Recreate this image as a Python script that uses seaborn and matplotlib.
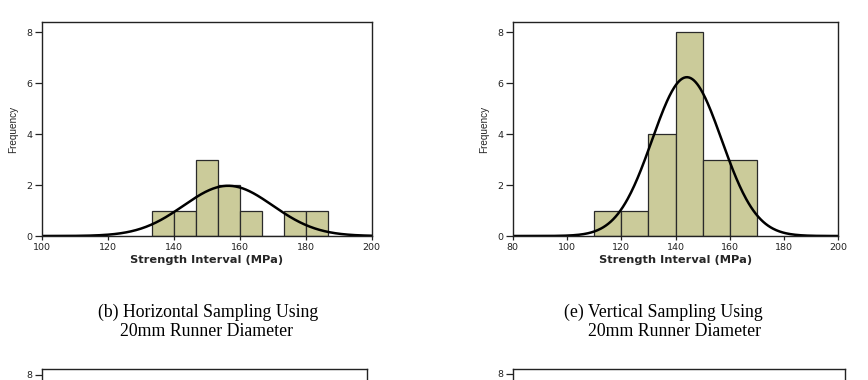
import numpy as np
import pandas as pd
import matplotlib
matplotlib.use("Agg")
import matplotlib.pyplot as plt
import seaborn as sns

# ---------------- data ----------------
# (b) Horizontal sampling, 20mm runner
h_edges = [133.33, 140.0, 146.67, 153.33, 160.0, 166.67, 173.33, 180.0, 186.67]
h_counts = [1, 1, 3, 2, 1, 0, 1, 1]
h_mean, h_sd = 156.5, 13.5

# (e) Vertical sampling, 20mm runner
v_edges = [110, 120, 130, 140, 150, 160, 170]
v_counts = [1, 1, 4, 8, 3, 3]
v_mean, v_sd = 144.2, 12.8

h_xticks = [100, 120, 140, 160, 180, 200]
v_xticks = [80, 100, 120, 140, 160, 180, 200]
y_ticks = [0, 2, 4, 6, 8]

caption_b = ["(b) Horizontal Sampling Using", "20mm Runner Diameter"]
caption_e = ["(e) Vertical Sampling Using", "20mm Runner Diameter"]
x_label = "Strength Interval (MPa)"
y_label = "Frequency"

# ---------------- style ----------------
sns.set_theme(style="ticks")
plt.rcParams["font.family"] = ["DejaVu Sans"]

BAR = "#CBCB9A"
EDGE = "#2a2a2a"
SPINE = "#222222"

W, H = 868, 380
fig = plt.figure(figsize=(W / 100, H / 100), dpi=100)


def px_axes(left, top, right, bottom):
    return fig.add_axes([left / W, 1 - bottom / H, (right - left) / W, (bottom - top) / H])


def style_axes(ax, xlim, xticks, yticks, ytop=8.4):
    ax.set_xlim(*xlim)
    ax.set_ylim(0, ytop)
    ax.set_xticks(xticks)
    ax.set_yticks(yticks)
    for s in ax.spines.values():
        s.set_visible(True)
        s.set_linewidth(1.0)
        s.set_color(SPINE)
    ax.tick_params(axis="x", length=3, width=0.9, pad=2, labelsize=6.8, colors=SPINE)
    ax.tick_params(axis="y", length=5, width=0.9, pad=1.5, labelsize=6.8, colors=SPINE)
    ax.grid(False)
    ax.set_facecolor("white")


def panel(ax, edges, counts, mean, sd, xlim, xticks):
    centers = [(a + b) / 2 for a, b in zip(edges[:-1], edges[1:])]
    df = pd.DataFrame({"x": centers, "w": counts})
    sns.histplot(data=df, x="x", weights="w", bins=edges, ax=ax,
                 color=BAR, alpha=1.0, edgecolor=EDGE, linewidth=0.9)
    n = sum(counts)
    bw = edges[1] - edges[0]
    xs = np.linspace(xlim[0], xlim[1], 400)
    ys = n * bw * np.exp(-0.5 * ((xs - mean) / sd) ** 2) / (sd * np.sqrt(2 * np.pi))
    sns.lineplot(x=xs, y=ys, ax=ax, color="black", linewidth=1.8)
    style_axes(ax, xlim, xticks, y_ticks)
    ax.set_xlabel(x_label, fontsize=8.2, fontweight="bold", labelpad=2)
    ax.set_ylabel(y_label, fontsize=7.2, labelpad=6,
                  family=["Liberation Sans Narrow", "Liberation Sans", "DejaVu Sans"])


ax1 = px_axes(41.7, 22, 371.7, 236)
panel(ax1, h_edges, h_counts, h_mean, h_sd, (100, 200), h_xticks)

ax2 = px_axes(512.7, 22, 838.3, 236)
panel(ax2, v_edges, v_counts, v_mean, v_sd, (80, 200), v_xticks)

# partially visible lower panels
ax3 = px_axes(41.7, 369.3, 366.7, 583)
style_axes(ax3, (100, 200), h_xticks, [8], ytop=8.2)
ax3.tick_params(axis="x", labelbottom=False)
ax4 = px_axes(512.7, 368.7, 845.3, 583)
style_axes(ax4, (80, 200), v_xticks, [8], ytop=8.2)
ax4.tick_params(axis="x", labelbottom=False)

# captions
serif = ["Liberation Serif", "DejaVu Serif"]
for (cx, cy, txt) in [(208, 312, caption_b[0]), (207, 331, caption_b[1]),
                      (663, 312, caption_e[0]), (674, 331, caption_e[1])]:
    fig.text(cx / W, 1 - cy / H, txt, ha="center", va="center",
             fontsize=12.8, family=serif, color="black")

fig.savefig("out.png", dpi=100, facecolor="white")
